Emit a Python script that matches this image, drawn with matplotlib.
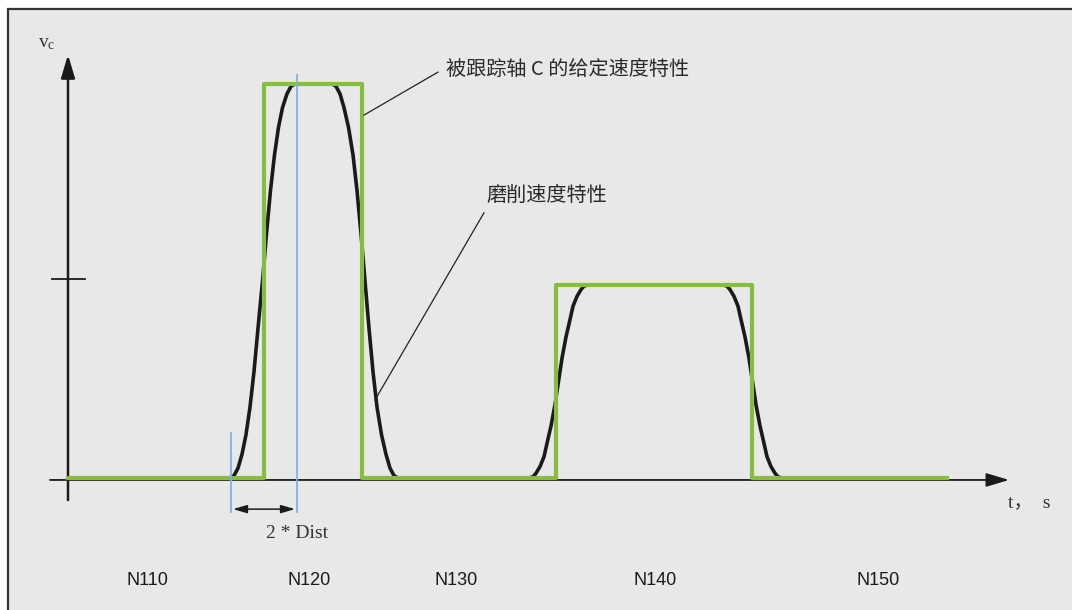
import matplotlib
matplotlib.use('Agg')
import matplotlib.pyplot as plt
from matplotlib.patches import Rectangle

plt.rcParams['font.family'] = ['Noto Sans CJK SC', 'DejaVu Sans']

# Setpoint speed of followed axis C (green step profile)
set_t = [0, 19.6, 19.6, 29.4, 29.4, 48.8, 48.8, 68.4, 68.4, 87.9]
set_v = [0, 0, 100, 100, 0, 0, 49, 49, 0, 0]

# Grinding speed profile (black smoothed curve)
rise1_t = [16.2, 16.6, 17.0, 17.4, 17.8, 18.2, 18.6, 19.0, 19.45,
           19.85, 20.25, 20.65, 21.05, 21.45, 21.9, 22.3, 22.7]
rise1_v = [0, 0.6, 2.5, 6, 11, 18, 27, 38, 50, 62, 73, 82, 89, 94, 97.5, 99.4, 100]
fall1_t = [26.4, 26.8, 27.2, 27.6, 28.05, 28.5, 28.9, 29.3, 29.7,
           30.1, 30.5, 30.9, 31.35, 31.8, 32.2, 32.6, 33.0]
fall1_v = [100, 99.4, 97.5, 94, 89, 82, 73, 62, 50, 38, 27, 18, 11, 6, 2.5, 0.6, 0]
rise2_t = [46.1, 46.5, 46.8, 47.2, 47.6, 47.9, 48.3, 48.7, 49.05,
           49.4, 49.8, 50.2, 50.5, 50.9, 51.3, 51.6, 52.0]
rise2_v = [0, 0.3, 1.2, 2.9, 5.4, 8.8, 13.2, 18.6, 24.5,
           30.4, 35.8, 40.2, 43.6, 46.1, 47.8, 48.7, 49]
fall2_t = [65.5, 65.9, 66.2, 66.6, 67.0, 67.3, 67.7, 68.1, 68.45,
           68.8, 69.2, 69.6, 69.9, 70.3, 70.7, 71.0, 71.4]
fall2_v = [49, 48.7, 47.8, 46.1, 43.6, 40.2, 35.8, 30.4, 24.5,
           18.6, 13.2, 8.8, 5.4, 2.9, 1.2, 0.3, 0]

grind_t = [0] + rise1_t + fall1_t + rise2_t + fall2_t + [87.9]
grind_v = [0] + rise1_v + fall1_v + rise2_v + fall2_v + [0]

# 2 * Dist markers
dist_t = [16.3, 22.9]
dist_top = [11.4, 102.3]

# block numbers
block_labels = ['N110', 'N120', 'N130', 'N140', 'N150']
block_t = [7.9, 24.1, 38.8, 58.7, 81.0]

fig = plt.figure(figsize=(10.72, 6.10), dpi=100, facecolor='white')
ax = fig.add_axes([0, 0, 1, 1])
ax.set_xlim(-6.8, 100.4)
ax.set_ylim(-33.5, 121.3)
ax.axis('off')

# grey panel with frame
ax.add_patch(Rectangle((8 / 1072, -0.02), 1.02, 1 - 9 / 610 + 0.02, transform=ax.transAxes,
                       facecolor='#e8e8e8', edgecolor='#333333', lw=1.6, clip_on=False, zorder=0))

axis_col = '#1a1a1a'
# x axis
ax.annotate('', xy=(94.1, -0.5), xytext=(-1.8, -0.5),
            arrowprops=dict(arrowstyle='-|>,head_length=1.0,head_width=0.3', mutation_scale=14,
                            lw=1.3, color=axis_col, shrinkA=0, shrinkB=0), zorder=2)
# y axis
ax.annotate('', xy=(0, 107.4), xytext=(0, -5.6),
            arrowprops=dict(arrowstyle='-|>,head_length=1.0,head_width=0.3', mutation_scale=14,
                            lw=1.8, color=axis_col, shrinkA=0, shrinkB=0), zorder=2)
# tick on y axis
ax.plot([-1.6, 1.7], [50.5, 50.5], color=axis_col, lw=1.3, zorder=2)

ax.plot(grind_t, grind_v, color='#1a1a1a', lw=2.6, zorder=3,
        solid_joinstyle='round', solid_capstyle='round')
ax.plot(set_t, set_v, color='#86bd3d', lw=3.0, zorder=4)

for t, top in zip(dist_t, dist_top):
    ax.plot([t, t], [-8.6, top], color='#7db3e6', lw=1.3, zorder=5)
ax.annotate('', xy=(dist_t[1] - 0.2, -7.9), xytext=(dist_t[0] + 0.2, -7.9),
            arrowprops=dict(arrowstyle='<|-|>,head_length=1.2,head_width=0.35', mutation_scale=7,
                            lw=1.1, color=axis_col, shrinkA=0, shrinkB=0))
ax.text(22.9, -14.0, '2 * Dist', ha='center', va='center', fontsize=14,
        family='Liberation Serif', color='#333333')

# leaders and labels
ax.plot([37.0, 29.6], [103.0, 92.1], color='#222222', lw=0.9, zorder=5)
ax.text(37.8, 103.6, '被跟踪轴 C 的给定速度特性', ha='left', va='center', fontsize=14.5,
        color='#2a2a2a')
ax.plot([41.6, 30.7], [67.3, 19.8], color='#222222', lw=0.9, zorder=5)
ax.text(41.8, 71.8, '磨削速度特性', ha='left', va='center', fontsize=14.5, color='#2a2a2a')

ax.text(-2.1, 110.2, r'$\mathregular{v_c}$', ha='center', va='center', fontsize=14,
        family='Liberation Serif', color='#333333')
ax.text(94.0, -6.3, 't，  s', ha='left', va='center', fontsize=14,
        family=['Liberation Serif', 'Noto Sans CJK SC'], color='#333333')

for lab, t in zip(block_labels, block_t):
    ax.text(t, -26.0, lab, ha='center', va='center', fontsize=13,
            family='Liberation Sans', color='#1a1a1a')

fig.savefig('out.png', dpi=100, facecolor=fig.get_facecolor())
